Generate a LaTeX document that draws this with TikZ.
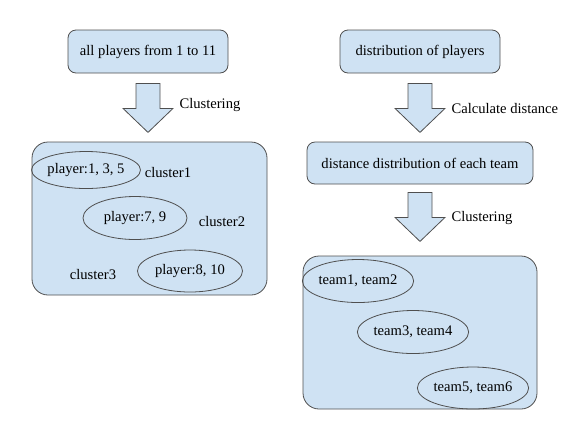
\documentclass[tikz,border=0pt]{standalone}
\usepackage{fontspec}
\setmainfont{Liberation Serif}
\usetikzlibrary{positioning,shapes.geometric,calc}
\definecolor{boxfill}{HTML}{CFE2F3}
\definecolor{boxline}{HTML}{4F4F4F}

\tikzset{
  box/.style={draw=boxline, fill=boxfill, rounded corners=8pt, line width=0.8pt},
  group/.style={box, rounded corners=16pt},
  cluster/.style={draw=boxline, ellipse, line width=0.8pt, inner sep=0pt},
  note/.style={anchor=west},
  bigarrow/.style={draw=boxline, fill=boxfill, line width=0.8pt, line join=miter}
}
% block arrow pointing down, hanging from a coordinate
\newcommand{\blockarrow}[1]{%
  \draw[bigarrow, shift={(#1)}] (-12,0) -- (-12,25) -- (-25,25) -- (0,49)
    -- (25,25) -- (12,25) -- (12,0) -- cycle;}

\begin{document}
\begin{tikzpicture}[x=1pt, y=-1pt, font=\fontsize{14.6}{17}\selectfont]
  \useasboundingbox (0,0) rectangle (580,432);

  % left column
  \node[box, minimum width=160pt, minimum height=43pt] (players) at (148,51.5) {all players from 1 to 11};
  \coordinate (arrL) at ([yshift=-10pt]players.south);
  \blockarrow{arrL}
  \node[note] (clusL) at ([xshift=28pt, yshift=-22pt]arrL) {Clustering};
  \node[group, minimum width=235pt, minimum height=153pt] (groupL) at (149.5,218.5) {};
  \node[cluster, minimum width=105pt, minimum height=37pt] (c1) at (86,170) {player:1, 3, 5};
  \node[cluster, minimum width=104pt, minimum height=43pt] (c2) at (135,218) {player:7, 9};
  \node[cluster, minimum width=105pt, minimum height=42pt] (c3) at (190,271) {player:8, 10};
  \node (lab1) at (168,172) {cluster1};
  \node (lab2) at (222,221) {cluster2};
  \node (lab3) at (93,274) {cluster3};

  % right column
  \node[box, minimum width=160pt, minimum height=43pt] (distr) at (420,51.5) {distribution of players};
  \coordinate (arrR1) at ([yshift=-10pt]distr.south);
  \blockarrow{arrR1}
  \node[note] (calc) at ([xshift=28pt, yshift=-25pt]arrR1) {Calculate distance};
  \node[box, minimum width=226pt, minimum height=42pt] (ddist) at (420,163) {distance distribution of each team};
  \coordinate (arrR2) at ([yshift=-8pt]ddist.south);
  \blockarrow{arrR2}
  \node[note] (clusR) at ([xshift=28pt, yshift=-26pt]arrR2) {Clustering};
  \node[group, minimum width=234pt, minimum height=153pt] (groupR) at (420,332.5) {};
  \node[cluster, minimum width=106pt, minimum height=43pt] (t1) at (358,281) {team1, team2};
  \node[cluster, minimum width=105pt, minimum height=43pt] (t2) at (413,332) {team3, team4};
  \node[cluster, minimum width=104pt, minimum height=42pt] (t3) at (473,388) {team5, team6};
\end{tikzpicture}
\end{document}
